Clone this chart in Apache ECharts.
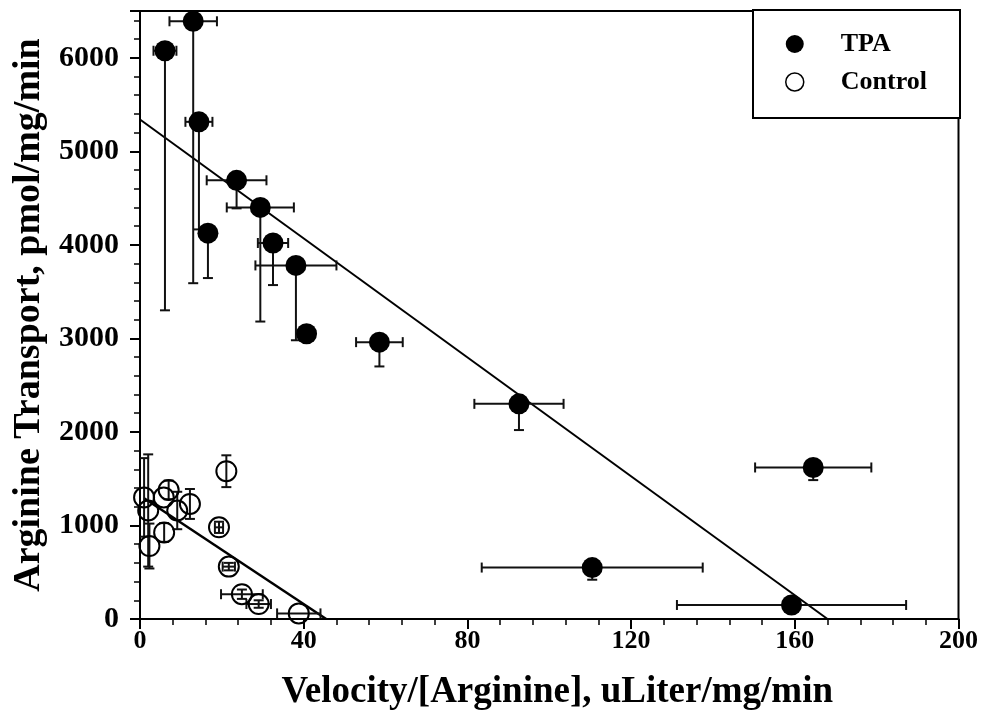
<!DOCTYPE html>
<html>
<head>
<meta charset="utf-8">
<script src="https://cdn.jsdelivr.net/npm/echarts@6/dist/echarts.min.js"></script>
<style>
    html, body { margin: 0; padding: 0; background: #fff; }
    #chart { width: 981px; height: 717px; }
</style>
</head>
<body>
<div id="chart"></div>
<script>
// TPA (filled circles): x, y, +/- x error, downward y error
var tpaX = [6.1, 13.0, 14.4, 16.6, 23.6, 29.4, 32.5, 38.1, 40.7, 58.5, 92.6, 164.5, 110.5, 159.2];
var tpaY = [6075, 6390, 5315, 4125, 4690, 4400, 4020, 3780, 3050, 2960, 2300, 1620, 550, 150];
var tpaXErr = [2.8, 5.8, 3.3, 0, 7.3, 8.2, 3.7, 9.9, 0, 5.7, 10.9, 14.2, 27, 28];
var tpaYErrLow = [2775, 2800, 1150, 480, 300, 1220, 450, 800, 0, 260, 280, 135, 130, 0];

// Control (open circles): x, y, +/- x error, +/- y error
var ctlX = [1.0, 2.0, 2.3, 5.8, 7.0, 5.9, 9.1, 12.2, 21.1, 19.3, 21.7, 24.9, 29.0, 38.8];
var ctlY = [1300, 1160, 780, 1300, 1380, 925, 1160, 1230, 1580, 980, 560, 265, 160, 60];
var ctlXErr = [0, 0, 0, 0, 0, 0, 0, 0, 0, 1.0, 1.5, 5.1, 3.0, 5.3];
var ctlYErr = [420, 600, 240, 0, 100, 100, 200, 160, 170, 60, 40, 50, 40, 0];

// regression lines
var fitTpaX = [0, 168];
var fitTpaY = [5340, 0];
var fitCtlX = [1, 45.5];
var fitCtlY = [1291, 0];

var xTicks = [0, 40, 80, 120, 160, 200];
var yTicks = [0, 1000, 2000, 3000, 4000, 5000, 6000];

var font = '"Liberation Serif", "Times New Roman", serif';

function pairs(xs, ys) {
    return xs.map(function (x, i) { return [x, ys[i]]; });
}

// [x, y, xerr, yLow, yHigh]
var tpaErr = tpaX.map(function (x, i) { return [x, tpaY[i], tpaXErr[i], tpaYErrLow[i], 0]; });
var ctlErr = ctlX.map(function (x, i) { return [x, ctlY[i], ctlXErr[i], ctlYErr[i], ctlYErr[i]]; });

function renderErr(params, api) {
    var x = api.value(0), y = api.value(1);
    var xe = api.value(2), ylo = api.value(3), yhi = api.value(4);
    var c = api.coord([x, y]);
    var kids = [];
    var cap = 5;
    var st = { stroke: '#111', lineWidth: 2 };
    if (xe > 0) {
        var l = api.coord([x - xe, y]), r = api.coord([x + xe, y]);
        kids.push({ type: 'line', shape: { x1: l[0], y1: c[1], x2: r[0], y2: c[1] }, style: st });
        kids.push({ type: 'line', shape: { x1: l[0], y1: c[1] - cap, x2: l[0], y2: c[1] + cap }, style: st });
        kids.push({ type: 'line', shape: { x1: r[0], y1: c[1] - cap, x2: r[0], y2: c[1] + cap }, style: st });
    }
    if (ylo > 0 || yhi > 0) {
        var b = api.coord([x, y - ylo]), t = api.coord([x, y + yhi]);
        kids.push({ type: 'line', shape: { x1: c[0], y1: t[1], x2: c[0], y2: b[1] }, style: st });
        if (ylo > 0) kids.push({ type: 'line', shape: { x1: c[0] - cap, y1: b[1], x2: c[0] + cap, y2: b[1] }, style: st });
        if (yhi > 0) kids.push({ type: 'line', shape: { x1: c[0] - cap, y1: t[1], x2: c[0] + cap, y2: t[1] }, style: st });
    }
    return { type: 'group', children: kids };
}

var chart = echarts.init(document.getElementById('chart'));
chart.setOption({
    backgroundColor: '#fff',
    animation: false,
    grid: {
        left: 140, right: 21, top: 11, bottom: 98,
        show: true, borderColor: '#000', borderWidth: 2, backgroundColor: 'transparent'
    },
    graphic: [{
        type: 'rect', z: 5,
        shape: { x: 753, y: 10, width: 207, height: 108 },
        style: { fill: '#fff', stroke: '#000', lineWidth: 2 }
    }],
    legend: {
        z: 10,
        orient: 'vertical',
        left: 780, top: 26,
        itemWidth: 18, itemHeight: 18, itemGap: 12,
        data: [
            { name: 'TPA', itemStyle: { color: '#000' } },
            { name: 'Control', icon: 'circle', itemStyle: { color: '#fff', borderColor: '#000', borderWidth: 1.5 } }
        ],
        textStyle: { fontFamily: font, fontWeight: 'bold', fontSize: 26, color: '#000', lineHeight: 26, padding: [0, 0, 0, 32] }
    },
    xAxis: {
        type: 'value', min: 0, max: 200, interval: 40,
        name: 'Velocity/[Arginine], uLiter/mg/min',
        nameLocation: 'middle', nameGap: 55,
        nameTextStyle: { fontFamily: font, fontWeight: 'bold', fontSize: 37, color: '#000', padding: [0, 0, 0, 16] },
        axisLine: { show: true, lineStyle: { color: '#000', width: 2 } },
        axisTick: { show: true, inside: false, length: 10, lineStyle: { color: '#000', width: 2 } },
        minorTick: { show: true, splitNumber: 5, length: 6, lineStyle: { color: '#000', width: 1.5 } },
        splitLine: { show: false },
        axisLabel: {
            margin: 9, fontFamily: font, fontWeight: 'bold', fontSize: 26, color: '#000',
            formatter: function (v) { return xTicks.indexOf(v) >= 0 ? String(v) : ''; }
        }
    },
    yAxis: {
        type: 'value', min: 0, max: 6500, interval: 1000,
        name: 'Arginine Transport, pmol/mg/min',
        nameLocation: 'middle', nameGap: 76,
        nameTextStyle: { fontFamily: font, fontWeight: 'bold', fontSize: 38, color: '#000' },
        axisLine: { show: true, lineStyle: { color: '#000', width: 2 } },
        axisTick: { show: true, inside: false, length: 10, lineStyle: { color: '#000', width: 2 } },
        minorTick: { show: true, splitNumber: 5, length: 6, lineStyle: { color: '#000', width: 1.5 } },
        splitLine: { show: false },
        axisLabel: {
            margin: 21, fontFamily: font, fontWeight: 'bold', fontSize: 30, color: '#000',
            formatter: function (v) { return yTicks.indexOf(v) >= 0 ? String(v) : ''; }
        }
    },
    series: [
        {
            name: 'tpaFit', type: 'line', data: pairs(fitTpaX, fitTpaY),
            symbol: 'none', lineStyle: { color: '#000', width: 2 }, z: 1
        },
        {
            name: 'ctlFit', type: 'line', data: pairs(fitCtlX, fitCtlY),
            symbol: 'none', lineStyle: { color: '#000', width: 2.5 }, z: 1
        },
        {
            name: 'tpaErr', type: 'custom', renderItem: renderErr, data: tpaErr, z: 2, clip: true
        },
        {
            name: 'ctlErr', type: 'custom', renderItem: renderErr, data: ctlErr, z: 2, clip: true
        },
        {
            name: 'TPA', type: 'scatter', data: pairs(tpaX, tpaY),
            symbol: 'circle', symbolSize: 21, z: 3,
            itemStyle: { color: '#000', opacity: 1 }
        },
        {
            name: 'Control', type: 'scatter', data: pairs(ctlX, ctlY),
            symbol: 'circle', symbolSize: 20, z: 3,
            itemStyle: { color: 'rgba(255,255,255,0)', borderColor: '#000', borderWidth: 2, opacity: 1 }
        }
    ]
});
</script>
</body>
</html>
